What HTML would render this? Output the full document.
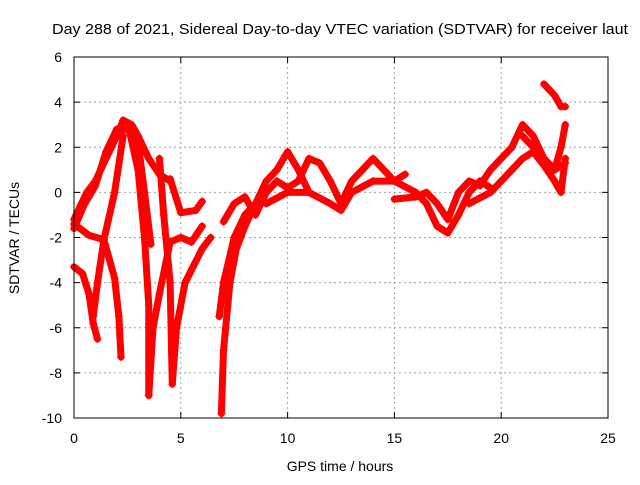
<!DOCTYPE html>
<html><head><meta charset="utf-8"><style>
body{margin:0;background:#fff}
svg text{font-family:"Liberation Sans",sans-serif;font-size:14px;fill:#000}
</style></head><body>
<svg width="640" height="480">
<rect width="640" height="480" fill="#fff"/>
<text x="52" y="34" textLength="576" lengthAdjust="spacingAndGlyphs" style="font-size:15px">Day 288 of 2021, Sidereal Day-to-day VTEC variation (SDTVAR) for receiver laut</text>
<g id="grid"></g>
<g id="axes"></g>
<g id="series"></g>
<rect x="74" y="57" width="534" height="361" fill="none" stroke="#000" stroke-width="1"/>
<text x="340" y="471" text-anchor="middle">GPS time / hours</text>
<text transform="translate(19,238) rotate(-90)" text-anchor="middle">SDTVAR / TECUs</text>
</svg>
<script>
const xTicks=[0,5,10,15,20,25];
const yTicks=[6,4,2,0,-2,-4,-6,-8,-10];
const trackA=[[0,-1.2],[0.3,-0.6],[0.6,0],[1,0.5],[1.5,1.5],[2,2.5],[2.3,3.2],[2.7,3],[3,2.5],[3.5,1.5],[4,0.8],[4.5,0.5]];
const trackB=[[0,-1.6],[0.5,-0.5],[1,0.3],[1.5,1.8],[2,2.8],[2.5,2.8],[3,2.2],[3.3,0],[3.6,-2.3]];
const trackC=[[0,-1.4],[0.7,-1.9],[1.4,-2.1],[1.9,-3.8],[2.1,-5.5],[2.2,-7.3]];
const trackD=[[0,-3.3],[0.4,-3.6],[0.7,-4.5],[0.9,-5.8],[1.1,-6.5]];
const trackC2=[[0.9,-5.5],[1.1,-4],[1.4,-2.1],[1.9,0],[2.3,2.5]];
const trackE=[[2.6,2.7],[3,1],[3.3,-2],[3.5,-5],[3.5,-9]];
const trackF=[[3.5,-9],[3.7,-6],[4,-4.5],[4.5,-2.2],[5,-2],[5.5,-2.2],[6,-1.5]];
const trackG=[[4,1.5],[4.2,-1],[4.5,-4],[4.6,-8.5],[4.8,-6],[5.2,-4],[6,-2.5],[6.4,-2]];
const trackH=[[4.5,0.6],[5,-0.9],[5.7,-0.8],[6,-0.4]];
const trackI=[[6.9,-9.8],[7,-7],[7.3,-4],[7.6,-2.5],[8,-1.5],[8.5,-0.5],[9,0.5],[9.5,1],[10,1.8],[10.5,1],[11,0]];
const trackI2=[[6.8,-5.5],[7,-4],[7.5,-2],[8,-1],[8.5,-0.5]];
const trackJ=[[7,-1.3],[7.5,-0.5],[8,-0.2],[8.5,-1],[9,0],[9.5,0.5],[10,0.2],[10.5,0.5],[11,1.5],[11.5,1.3],[12,0.5],[12.5,-0.5],[13,0.5],[13.5,1],[14,1.5],[14.5,1],[15,0.5],[15.5,0.8]];
const trackK=[[9,-0.5],[10,0],[11,0],[12,-0.5],[12.5,-0.8],[13,0],[14,0.5],[15,0.5],[16,0],[16.5,-0.5],[17,-1.5],[17.5,-1.8],[18,-1],[18.5,0],[19,0.5],[19.5,0.2]];
const trackL=[[15,-0.3],[16,-0.2],[16.5,0],[17,-0.5],[17.5,-1.2],[18,0],[18.5,0.5],[19,0.3],[19.5,1],[20,1.5],[20.5,2],[21,3],[21.5,2.5],[22,1.5],[22.5,1],[23,1.3]];
const trackM=[[18.5,-0.5],[19.5,0],[20,0.5],[20.5,1],[21,1.5],[21.5,1.8],[22,1.2],[22.5,0.5],[22.8,0],[23,1.5]];
const trackN=[[22,4.8],[22.5,4.3],[22.8,3.8],[23,3.8]];
const trackO=[[21,2.5],[22,1.5],[22.5,1],[22.8,2],[23,3]];
const tracks=[trackA,trackB,trackC,trackD,trackC2,trackE,trackF,trackG,trackH,trackI,trackI2,trackJ,trackK,trackL,trackM,trackN,trackO];
const NS="http://www.w3.org/2000/svg";
const X=v=>74+v*(534/25), Y=v=>57+(6-v)*(361/16);
const grid=document.getElementById('grid'),axes=document.getElementById('axes'),ser=document.getElementById('series');
function mk(t,a,p){const e=document.createElementNS(NS,t);for(const k in a)e.setAttribute(k,a[k]);p.appendChild(e);return e;}
xTicks.forEach(t=>{const x=X(t);
 if(t>0&&t<25){const g=mk('line',{x1:x,x2:x,y1:57,y2:418,stroke:'#a0a0a0','stroke-dasharray':'2,3'},grid);}
 const l=mk('path',{d:`M${x},418V412M${x},57V63`,stroke:'#000'},axes);
 const tx=mk('text',{x:x,y:443,'text-anchor':'middle'},axes);tx.textContent=t;});
yTicks.forEach(t=>{const y=Y(t);
 if(t<6&&t>-10){const g=mk('line',{x1:74,x2:608,y1:y,y2:y,stroke:'#a0a0a0','stroke-dasharray':'2,3'},grid);}
 const l=mk('path',{d:`M74,${y}H80M608,${y}H602`,stroke:'#000'},axes);
 const tx=mk('text',{x:62,y:y+5,'text-anchor':'end'},axes);tx.textContent=t;});
tracks.forEach(tr=>{
 const pl=mk('polyline',{points:tr.map(p=>X(p[0])+','+Y(p[1])).join(' '),fill:'none',stroke:'#ff0000','stroke-width':7,'stroke-linejoin':'round','stroke-linecap':'round'},ser);
 
 
 tr.forEach(p=>{const x=X(p[0]),y=Y(p[1]);
  const m=mk('path',{d:`M${x-4},${y}H${x+4}M${x},${y-4}V${y+4}`,stroke:'#ff0000','stroke-width':1},ser);
  
  });
});
</script>
</body></html>
